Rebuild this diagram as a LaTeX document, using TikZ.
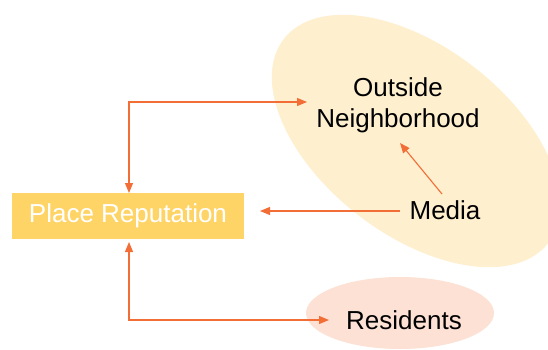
\documentclass[tikz,border=0pt]{standalone}
\usepackage{fontspec}
\setmainfont{Liberation Sans}
\usetikzlibrary{arrows.meta,shapes.geometric}
\definecolor{arrowc}{HTML}{F26E36}
\definecolor{outc}{HTML}{FEEFCF}
\definecolor{resc}{HTML}{FCE1D4}
\definecolor{boxc}{HTML}{FFD466}
\begin{document}
\begin{tikzpicture}[x=1pt,y=1pt,
  tip/.style={Triangle[length=10pt,width=8pt]},
  link/.style={draw=arrowc, line width=1.1pt, -{Triangle[length=10pt,width=8pt]}},
  twoway/.style={draw=arrowc, line width=1.1pt, {Triangle[length=10pt,width=8pt]}-{Triangle[length=10pt,width=8pt]}},
  txt/.style={font=\fontsize{26}{31}\selectfont, text=black, align=center, inner sep=0pt}]
\useasboundingbox (0,0) rectangle (548,349);

% background areas
\node[ellipse, fill=outc, minimum width=334pt, minimum height=188pt, inner sep=0pt, rotate=-37.6] (outarea) at (416,208) {};
\node[ellipse, fill=resc, minimum width=188pt, minimum height=72pt, inner sep=0pt] (resarea) at (400,36) {};

% labels
\node[fill=boxc, minimum width=232pt, minimum height=46pt, inner sep=0pt, text=white, font=\fontsize{26}{31}\selectfont] (place) at (128,133) {Place Reputation};
\node[txt] (outside) at (398,244) {Outside\\Neighborhood};
\node[txt] (media) at (445,139) {Media};
\node[txt] (residents) at (404,29) {Residents};

% connector end points
\coordinate (placetop) at (129,156);
\coordinate (placebot) at (129,107);
\coordinate (placeright) at (260,138);
\coordinate (ontip) at (307,247);
\coordinate (restip) at (329,29);
\coordinate (mediatail) at (400,138);
\coordinate (mediaup) at (442,155);
\coordinate (onlow) at (400,206);

% connectors
\draw[twoway] (placetop) |- (ontip);
\draw[twoway] (placebot) |- (restip);
\draw[link] (mediatail) -- (placeright);
\draw[link] (mediaup) -- (onlow);
\end{tikzpicture}
\end{document}
